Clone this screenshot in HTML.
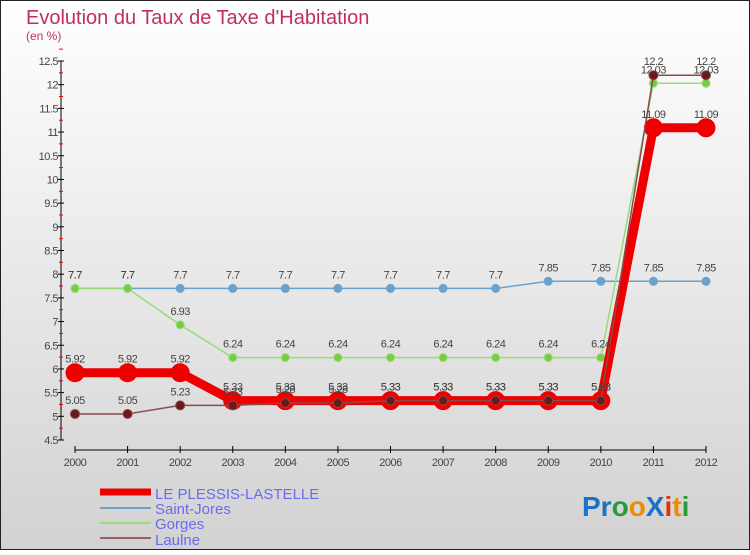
<!DOCTYPE html>
<html><head><meta charset="utf-8"><style>
html,body{margin:0;padding:0}
body{width:750px;height:550px;overflow:hidden;font-family:"Liberation Sans",sans-serif}
</style></head><body>
<svg id="chart" width="750" height="550" xmlns="http://www.w3.org/2000/svg" font-family="Liberation Sans, sans-serif">
<defs><linearGradient id="bg" x1="0" y1="0" x2="0" y2="1"><stop offset="0" stop-color="#ffffff"/><stop offset="1" stop-color="#d2d2d2"/></linearGradient></defs>
<rect x="0.5" y="0.5" width="749" height="549" fill="url(#bg)" stroke="#222"/>
<text x="26" y="24" font-size="20" fill="#c0305a">Evolution du Taux de Taxe d'Habitation</text>
<text x="26" y="40" font-size="12" fill="#c0305a">(en %)</text>
<g id="axes"></g><g id="series"></g><g id="labels"></g>
<g>
<line x1="100" y1="492" x2="151" y2="492" stroke="#ee0000" stroke-width="7"/>
<text x="155" y="499" font-size="15" fill="#6b6bf0">LE PLESSIS-LASTELLE</text>
<line x1="100" y1="508" x2="151" y2="508" stroke="#6aa2cc" stroke-width="2"/>
<text x="155" y="514" font-size="15" fill="#6b6bf0">Saint-Jores</text>
<line x1="100" y1="523" x2="151" y2="523" stroke="#99dd77" stroke-width="2"/>
<text x="155" y="529" font-size="15" fill="#6b6bf0">Gorges</text>
<line x1="100" y1="538" x2="151" y2="538" stroke="#996060" stroke-width="2"/>
<text x="155" y="545" font-size="15" fill="#6b6bf0">Laulne</text>
</g>
<g font-size="28" font-weight="bold">
<text x="582" y="516"><tspan fill="#1a73c8">Pr</tspan><tspan fill="#2a9a3a">o</tspan><tspan fill="#f08a00">o</tspan><tspan fill="#1a73c8">X</tspan><tspan fill="#e03010">i</tspan><tspan fill="#f08a00">t</tspan><tspan fill="#2a9a3a">i</tspan></text>
</g>
</svg>
<script>
const years=[2000,2001,2002,2003,2004,2005,2006,2007,2008,2009,2010,2011,2012];
const plessis=[5.92,5.92,5.92,5.33,5.33,5.33,5.33,5.33,5.33,5.33,5.33,11.09,11.09];
const saintJores=[7.7,7.7,7.7,7.7,7.7,7.7,7.7,7.7,7.7,7.85,7.85,7.85,7.85];
const gorges=[7.7,7.7,6.93,6.24,6.24,6.24,6.24,6.24,6.24,6.24,6.24,12.03,12.03];
const laulne=[5.05,5.05,5.23,5.23,5.28,5.28,5.33,5.33,5.33,5.33,5.33,12.2,12.2];
const yTicks=[4.5,5,5.5,6,6.5,7,7.5,8,8.5,9,9.5,10,10.5,11,11.5,12,12.5];
const NS="http://www.w3.org/2000/svg";
const X=i=>75+i*(706-75)/(years.length-1);
const Y=v=>440-(v-4.5)*(440-61)/8;
function mk(tag,attrs,parent){const e=document.createElementNS(NS,tag);for(const k in attrs)e.setAttribute(k,attrs[k]);parent.appendChild(e);return e;}
const axes=document.getElementById('axes');
const yAxis=mk('line',{x1:61,y1:Y(12.5),x2:61,y2:Y(4.5),stroke:'#000'},axes);


yTicks.forEach(t=>{
 mk('line',{x1:58,y1:Y(t),x2:64,y2:Y(t),stroke:'#000'},axes);
 mk('line',{x1:59,y1:Y(t+0.25),x2:63,y2:Y(t+0.25),stroke:'#e00'},axes);
 const l=mk('text',{x:58,y:Y(t)+4,'font-size':11,'text-anchor':'end',fill:'#444','letter-spacing':'-0.5'},axes);
 l.textContent=String(t);
 
 
});
const xAxis=mk('line',{x1:X(0),y1:450,x2:X(years.length-1),y2:450,stroke:'#000'},axes);


years.forEach((yr,i)=>{
 mk('line',{x1:X(i),y1:446,x2:X(i),y2:453,stroke:'#000'},axes);
 const l=mk('text',{x:X(i),y:466,'font-size':11,'text-anchor':'middle',fill:'#444','letter-spacing':'-0.5'},axes);
 l.textContent=yr;
 
 
});
const sg=document.getElementById('series'),lg=document.getElementById('labels');
function draw(vals,name,color,w,r,dot){
 const g=mk('g',{},sg);
 
 
 const p=mk('polyline',{points:vals.map((v,i)=>X(i)+','+Y(v)).join(' '),fill:'none',stroke:color,'stroke-width':w,'stroke-linejoin':'round'},g);
 
 
 vals.forEach((v,i)=>{
  const c=mk('circle',{cx:X(i),cy:Y(v),r:r,fill:dot,stroke:color,'stroke-width':1},g);
  
  
  const t=mk('text',{x:X(i),y:Y(v)-10,'font-size':11,'text-anchor':'middle',fill:'#444','letter-spacing':'-0.5'},lg);
  t.textContent=String(v);
  
  
 });
}
draw(saintJores,'saint-jores','#6aa2cc',1.5,4,'#6aa2cc');
draw(gorges,'gorges','#99dd77',1.5,4,'#77cc44');
draw(plessis,'le-plessis-lastelle','#ee0000',9,9,'#ee0000');
draw(laulne,'laulne','#8a4a4a',1.5,4.5,'#6a1a1a');
</script>
</body></html>
